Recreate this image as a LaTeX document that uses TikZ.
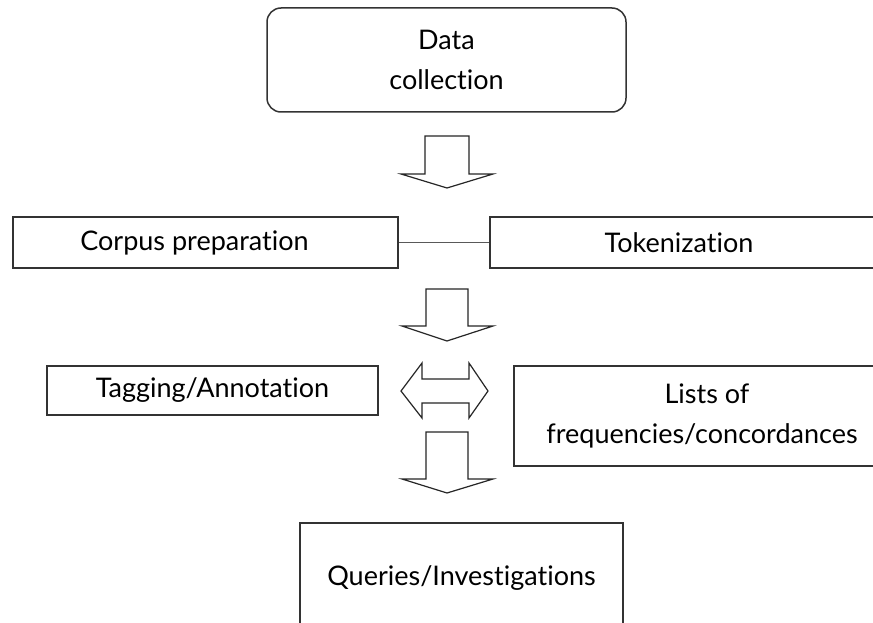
\documentclass[tikz,border=0pt]{standalone}
\usepackage{fontspec}
\setmainfont{Lato}[Ligatures={NoCommon}]
\begin{document}
\begin{tikzpicture}[x=1pt,y=-1pt,
  every node/.style={font=\fontsize{27}{40}\selectfont, text=black},
  box/.style={draw=black!80, line width=1.5pt, rectangle, inner sep=0pt},
  roundbox/.style={box, rounded corners=14pt},
  blockarrow/.style={draw=black!85, line width=1.2pt, fill=white, line join=miter},
  link/.style={draw=black!65, line width=1.8pt}]
\useasboundingbox (0,0) rectangle (873,623);
\fill[white] (0,0) rectangle (873,623);

% process boxes
\node (collect) [roundbox, minimum width=359pt, minimum height=104pt, align=center]
  at (446.5,60) {Data\\collection};
\node (corpus) [box, minimum width=385pt, minimum height=51pt]
  at (205.5,242.5) {Corpus preparation\hspace*{22pt}};
\node (token) [box, minimum width=410pt, minimum height=51pt]
  at (695,242.5) {Tokenization\hspace*{32pt}};
\node (tag) [box, minimum width=331pt, minimum height=49pt]
  at (212.5,390.5) {Tagging/Annotation};
\node (lists) [box, minimum width=386pt, minimum height=100pt, align=center]
  at (707,416) {Lists of\\frequencies/concordances\hspace*{10pt}};
\node (query) [box, minimum width=323pt, minimum height=110pt]
  at (461.5,578) {Queries/Investigations};

% plain link between the two preparation steps
\draw[link] (corpus.east) -- (token.west);

% block arrows between stages
\draw[blockarrow] (425,136) -- (469,136) -- (469,174) -- (493,174) -- (447,188)
  -- (401,174) -- (425,174) -- cycle;
\draw[blockarrow] (426,289) -- (468,289) -- (468,326) -- (493,326) -- (447,341)
  -- (402,326) -- (426,326) -- cycle;
\draw[blockarrow] (401,391) -- (422,363) -- (422,379) -- (469,379) -- (469,363)
  -- (488,391) -- (469,418) -- (469,403) -- (422,403) -- (422,418) -- cycle;
\draw[blockarrow] (426,432) -- (468,432) -- (468,479) -- (493,479) -- (447,493)
  -- (402,479) -- (426,479) -- cycle;
\end{tikzpicture}
\end{document}
